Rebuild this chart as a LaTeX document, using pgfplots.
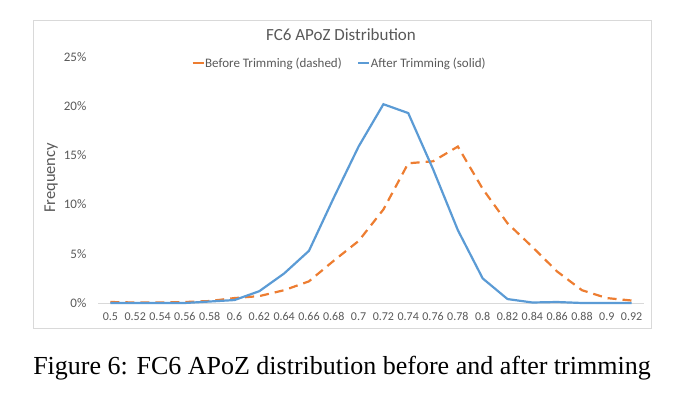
\documentclass[border=0pt]{standalone}
\usepackage{pgfplots}
\pgfplotsset{compat=1.18}
\usepackage{fontspec}
\setmainfont{Carlito}
\newfontfamily\timesfont{Liberation Serif}
\definecolor{cblue}{HTML}{5B9BD5}
\definecolor{corange}{HTML}{ED7D31}
\definecolor{tgray}{HTML}{595959}
\definecolor{lgray}{HTML}{D9D9D9}
\begin{document}
\begin{tikzpicture}[x=1pt,y=1pt]
\useasboundingbox (0,0) rectangle (686,395);
\draw[lgray, line width=0.8pt] (33,67) rectangle (651,375);
\begin{axis}[
  at={(98pt,92pt)}, anchor=south west,
  scale only axis, width=546pt, height=246pt,
  xmin=-0.5, xmax=21.5, ymin=0, ymax=25,
  axis x line=bottom, axis y line=left,
  x axis line style={lgray, line width=0.8pt, -},
  y axis line style={draw=none},
  tick style={draw=none},
  xtick={0,...,21},
  xticklabels={0.5,0.52,0.54,0.56,0.58,0.6,0.62,0.64,0.66,0.68,0.7,0.72,0.74,0.76,0.78,0.8,0.82,0.84,0.86,0.88,0.9,0.92},
  ytick={0,5,10,15,20,25},
  yticklabel={\pgfmathprintnumber{\tick}\%},
  /pgf/number format/assume math mode=true,
  xticklabel style={text=tgray, font=\fontsize{12}{14}\selectfont, yshift=-4pt},
  yticklabel style={text=tgray, font=\fontsize{13}{15}\selectfont, xshift=-6pt},
  legend style={draw=none, fill=none, at={(0.441,0.974)}, anchor=center,
    font=\fontsize{13}{15}\selectfont, text=tgray, inner sep=0pt,
    nodes={inner xsep=0.5pt},
    /tikz/every even column/.append style={column sep=15pt}},
  legend columns=2,
  legend image code/.code={\draw[#1,solid,line width=2.2pt] (0pt,0pt) -- (11pt,0pt);},
  clip=false,
]
\addplot[corange, line width=2.2pt, dash pattern=on 9pt off 6pt] coordinates {
(0,0.1) (1,0.05) (2,0.05) (3,0.1) (4,0.2) (5,0.5) (6,0.7) (7,1.3) (8,2.2) (9,4.3) (10,6.3) (11,9.5) (12,14.2) (13,14.4) (14,15.9) (15,11.6) (16,8.1) (17,5.7) (18,3.2) (19,1.3) (20,0.5) (21,0.25)};
\addlegendentry{Before Trimming (dashed)}
\addplot[cblue, line width=2.2pt] coordinates {
(0,0) (1,0) (2,0) (3,0) (4,0.15) (5,0.3) (6,1.2) (7,3.0) (8,5.3) (9,10.7) (10,15.9) (11,20.2) (12,19.3) (13,13.6) (14,7.4) (15,2.5) (16,0.4) (17,0.05) (18,0.1) (19,0) (20,0) (21,0)};
\addlegendentry{After Trimming (solid)}
\end{axis}
\node[text=tgray, font=\fontsize{17}{20}\selectfont, anchor=base] at (341,354.5) {FC6 APoZ Distribution};
\node[rotate=90, text=tgray, font=\fontsize{16.5}{19}\selectfont, anchor=base] at (55,217) {Frequency};
\node[font=\timesfont\fontsize{26}{30}\selectfont, anchor=base] at (342,20) {Figure 6: FC6 APoZ distribution before and after trimming};
\end{tikzpicture}
\end{document}
